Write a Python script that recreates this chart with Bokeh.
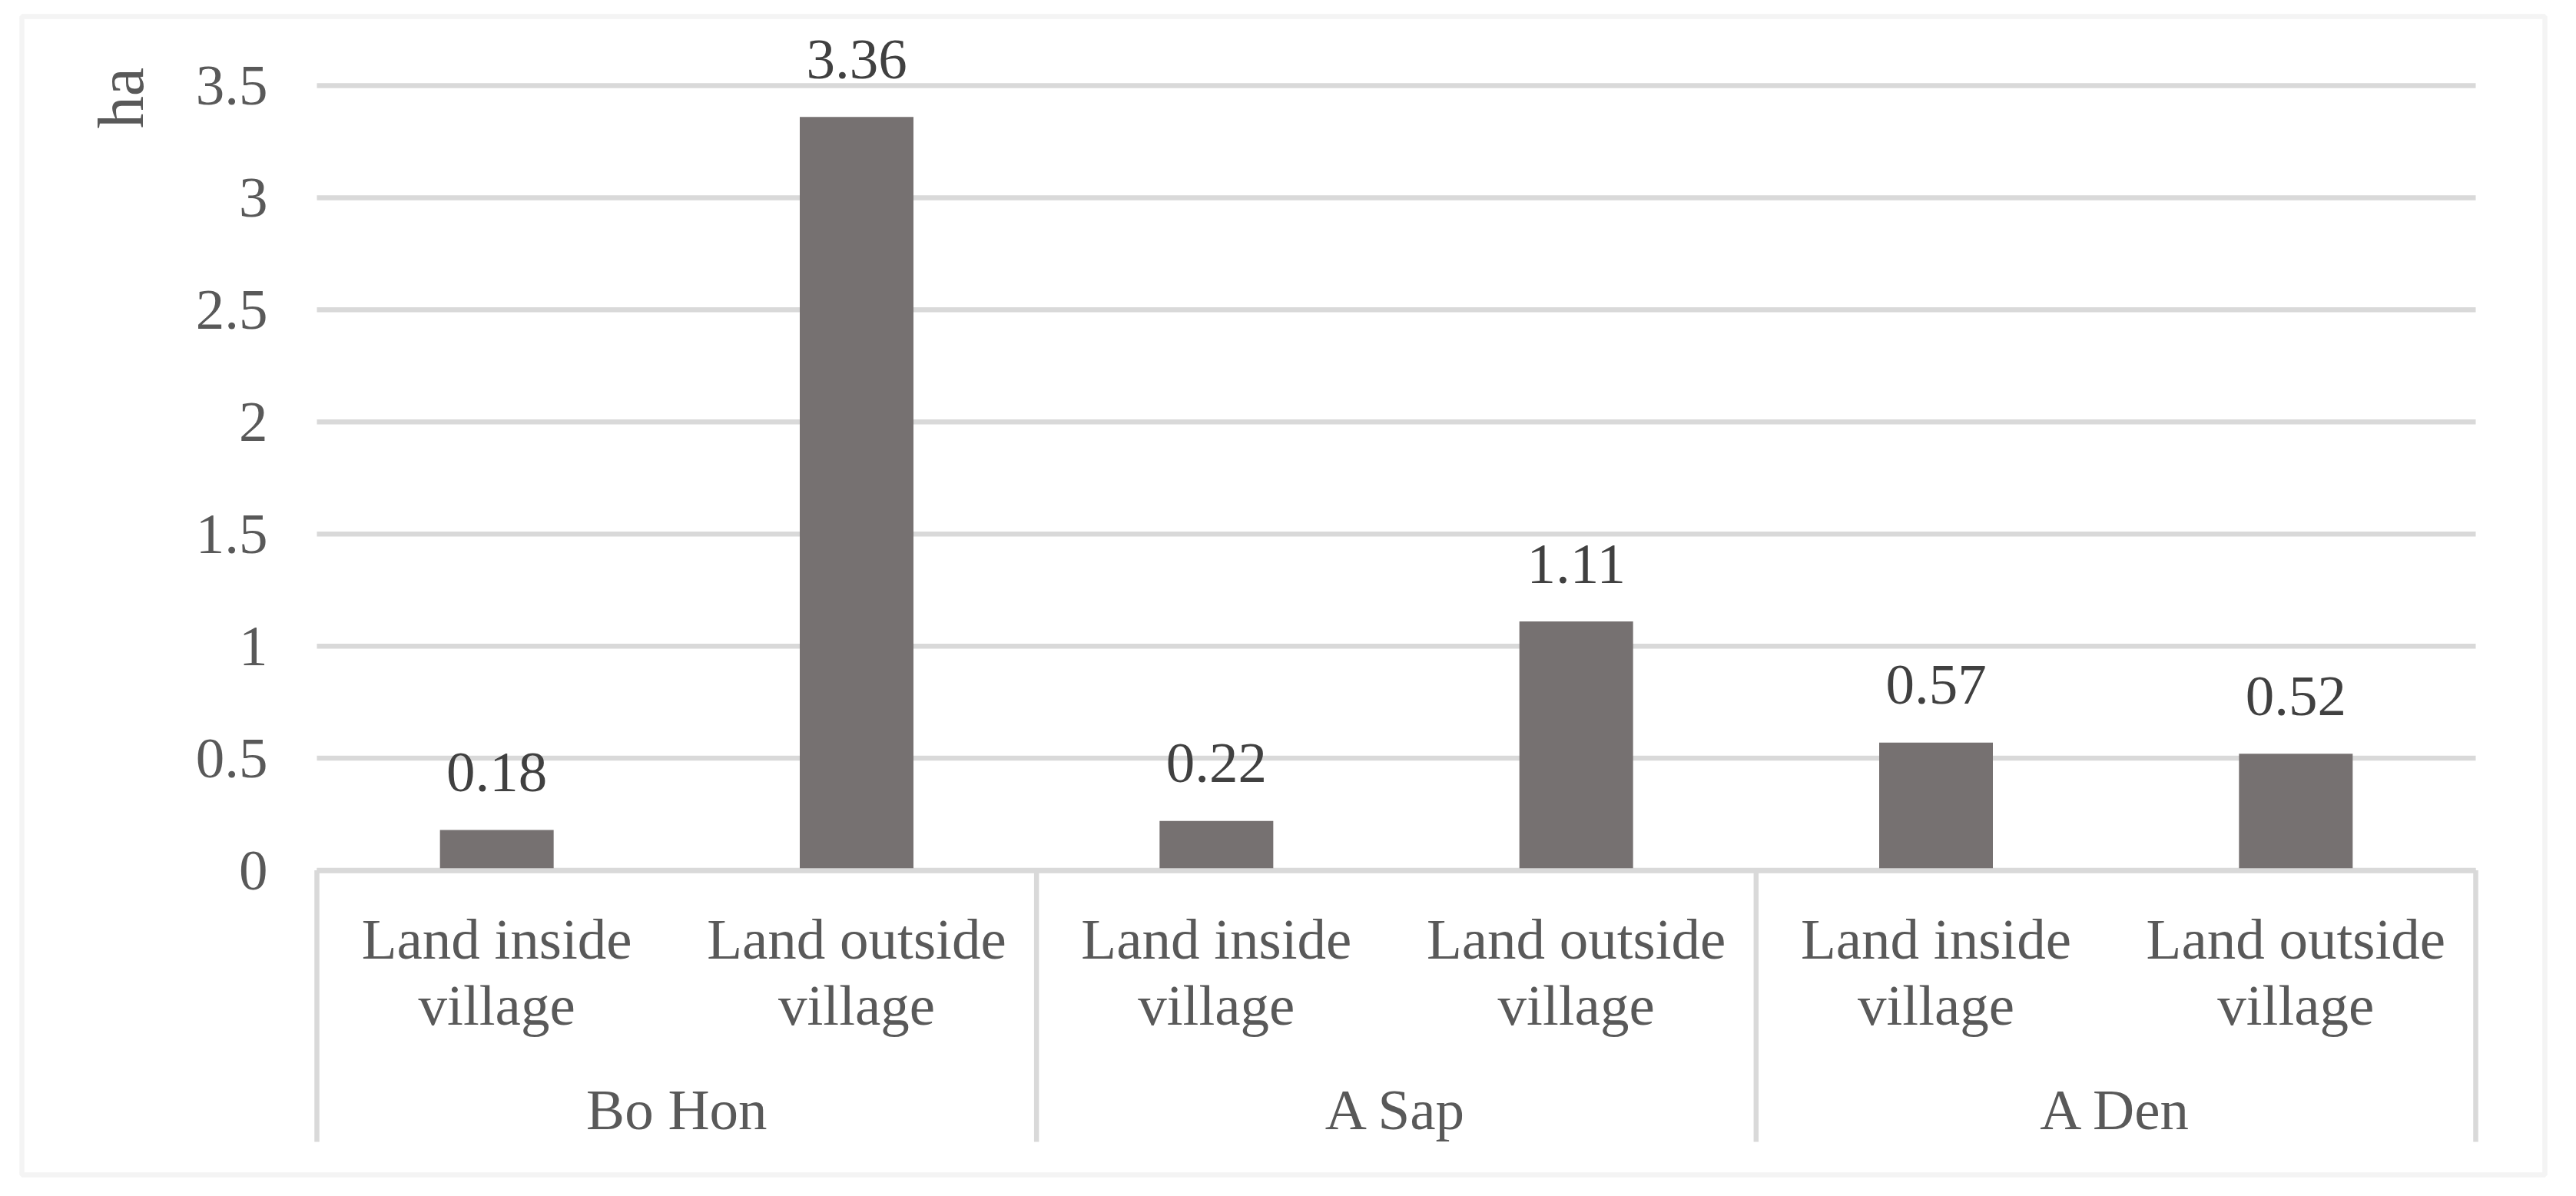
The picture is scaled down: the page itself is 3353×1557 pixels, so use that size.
import math
from bokeh.plotting import figure
from bokeh.models import (Range1d, ColumnDataSource, FixedTicker, LinearAxis,
                          CustomJSTickFormatter, BoxAnnotation, Label)
from bokeh.embed import file_html
from bokeh.resources import INLINE
from bokeh.core.properties import value

# ---------------- data ----------------
villages = ["Bo Hon", "A Sap", "A Den"]
land_types = ["Land inside\nvillage", "Land outside\nvillage"]
area_ha = [0.18, 3.36, 0.22, 1.11, 0.57, 0.52]
y_ticks = [0, 0.5, 1, 1.5, 2, 2.5, 3, 3.5]
y_title = "ha"

# category layout derived from the data (one unit per category)
n_sub = len(land_types)
cat_labels = [t for v in villages for t in land_types]
cat_centers = [i + 0.5 for i in range(len(cat_labels))]
group_centers = [g * n_sub + n_sub / 2 for g in range(len(villages))]
group_edges = [g * n_sub for g in range(len(villages) + 1)]
value_labels = [f"{v:.2f}" for v in area_ha]

# ---------------- page geometry (pixels in the 3353x1557 screenshot) ----------------
M = 8                         # page margin
W, H = 3353 - 2 * M, 1557 - 2 * M
plot_l, plot_r = 420, 3230    # category area
cat_px = (plot_r - plot_l) / len(cat_labels)
zero_y = 1140.5               # pixel row of value 0
unit_px = 291.86              # pixels per ha
sep_bottom = 1494
box_l, box_r, box_t, box_b = 36, 3320, 29, 1537

FONT = "Liberation Serif"
TXT = "#595959"
GRID = "#d9d9d9"
LW = 6.5
FS = "75px"


def px_to_x(px):
    return (px - plot_l) / cat_px


def px_to_y(py):
    return (zero_y - py) / unit_px


xr = Range1d(px_to_x(M), px_to_x(M + W))
yr = Range1d(px_to_y(M + H), px_to_y(M))

p = figure(width=W, height=H, x_range=xr, y_range=yr, output_backend="svg",
           toolbar_location=None, title=None,
           min_border_left=0, min_border_right=0, min_border_top=0, min_border_bottom=0)
p.outline_line_color = None
p.background_fill_color = "white"
p.border_fill_color = "white"
p.xgrid.visible = False
p.ygrid.visible = False

n_cat = len(cat_labels)

# horizontal gridlines across the category area
grid_src = ColumnDataSource(dict(x0=[0] * len(y_ticks), x1=[n_cat] * len(y_ticks),
                                 y=y_ticks))
p.segment(x0="x0", y0="y", x1="x1", y1="y", source=grid_src,
          line_color=GRID, line_width=LW)

# group separators from the axis down through the labels
sep_src = ColumnDataSource(dict(x=group_edges, y0=[0] * len(group_edges),
                                y1=[px_to_y(sep_bottom)] * len(group_edges)))
p.segment(x0="x", y0="y0", x1="x", y1="y1", source=sep_src,
          line_color=GRID, line_width=LW)

# bars and value labels
src = ColumnDataSource(dict(x=cat_centers, area=area_ha, label=value_labels))
p.vbar(x="x", top="area", width=148 / cat_px, source=src,
       fill_color="#767171", line_color=None)
p.text(x="x", y="area", text="label", source=src, text_align="center",
       text_baseline="middle", y_offset=-75,
       text_font=value(FONT), text_font_size=FS, text_color="#404040")

# y axis at the left edge of the category area
ya = p.yaxis[0]
ya.fixed_location = 0
ya.ticker = FixedTicker(ticks=y_ticks)
ya.formatter = CustomJSTickFormatter(code="return tick.toString()")
ya.axis_line_color = None
ya.major_tick_line_color = None
ya.minor_tick_line_color = None
ya.major_tick_in = 0
ya.major_tick_out = 0
ya.major_label_standoff = 64
ya.major_label_text_font = FONT
ya.major_label_text_font_size = FS
ya.major_label_text_color = TXT

# x axis: category labels
label_code = "const i = pos.indexOf(tick); return i >= 0 ? names[i] : '';"
xa = p.xaxis[0]
xa.fixed_location = 0
xa.bounds = (0, n_cat)
xa.ticker = FixedTicker(ticks=cat_centers)
xa.formatter = CustomJSTickFormatter(args=dict(pos=cat_centers, names=cat_labels),
                                     code=label_code)
xa.axis_line_color = GRID
xa.axis_line_width = LW
xa.major_tick_line_color = None
xa.minor_tick_line_color = None
xa.major_tick_in = 0
xa.major_tick_out = 0
xa.major_label_standoff = 48
xa.major_label_text_font = FONT
xa.major_label_text_font_size = FS
xa.major_label_text_color = TXT
xa.major_label_text_line_height = 1.04

# x axis: village (group) labels
ga = LinearAxis(fixed_location=0,
                ticker=FixedTicker(ticks=group_centers),
                formatter=CustomJSTickFormatter(args=dict(pos=group_centers, names=villages),
                                                code=label_code),
                axis_line_color=None, major_tick_line_color=None,
                minor_tick_line_color=None, major_tick_in=0, major_tick_out=0,
                major_label_standoff=270,
                major_label_text_font=FONT, major_label_text_font_size=FS,
                major_label_text_color=TXT)
p.add_layout(ga, "below")

# outer chart border
p.add_layout(BoxAnnotation(left=px_to_x(box_l), right=px_to_x(box_r),
                           top=px_to_y(box_t), bottom=px_to_y(box_b),
                           fill_color=None, fill_alpha=0,
                           line_color=GRID, line_width=LW))

# y axis title at the top left
p.add_layout(Label(x=px_to_x(165), y=px_to_y(135), text=y_title,
                   angle=math.pi / 2, text_align="center", text_baseline="middle",
                   text_font=FONT, text_font_size="84px", text_color=TXT))

open("out.html", "w").write(file_html(p, INLINE))
